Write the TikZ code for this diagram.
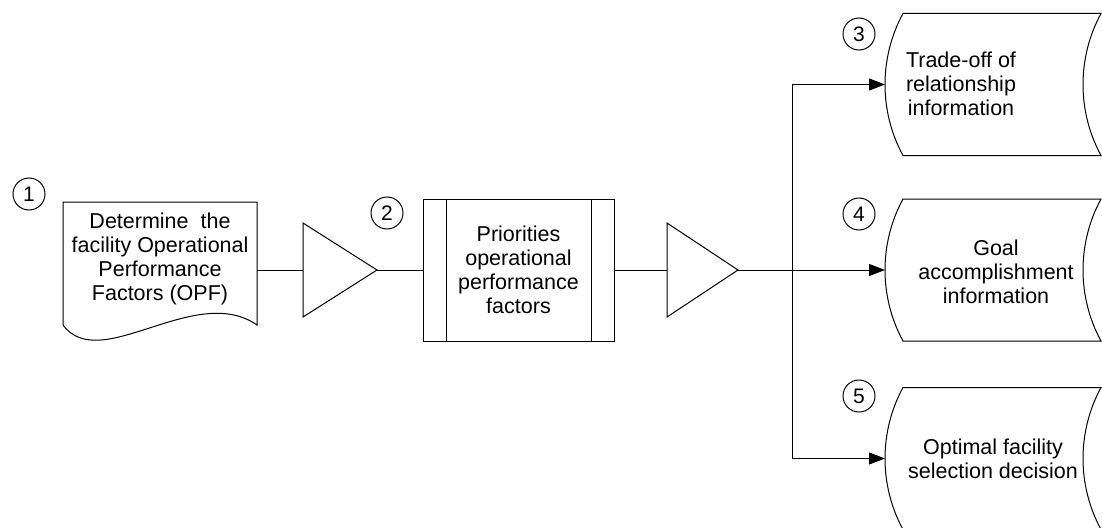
\documentclass[tikz,border=0pt]{standalone}
\usepackage{fontspec}
\setmainfont{Liberation Sans}
\usetikzlibrary{arrows.meta}
\begin{document}
\begin{tikzpicture}[x=1pt,y=-1pt,line width=1pt,line join=miter,
  txt/.style={font=\fontsize{21.5}{24}\selectfont,align=center,inner sep=0pt},
  num/.style={draw,circle,minimum size=32pt,inner sep=0pt,font=\fontsize{21}{24}\selectfont},
  procbox/.style={draw,minimum width=191pt,minimum height=142pt,txt},
  flow/.style={-{Triangle[length=16pt,width=12pt]}}]
\useasboundingbox (0,0) rectangle (1102,527);

% step numbers
\node[num] (n1) at (29,194) {1};
\node[num] (n2) at (387,213) {2};
\node[num] (n3) at (859,34) {3};
\node[num] (n4) at (859,214) {4};
\node[num] (n5) at (859,396) {5};

% document shape
\draw (63,202) -- (257,202) -- (257,325)
  .. controls (195,282) and (100,375) .. (63,325) -- cycle;
\coordinate (docR) at (257,270);
\node[txt] (docT) at (160,259) {Determine\ \ the\\facility Operational\\Performance\\Factors (OPF)};

% first merge triangle
\coordinate (t1L) at (303,270);
\coordinate (t1T) at (377,270);
\draw (303,223) -- (t1T) -- (303,317) -- cycle;

% predefined process
\node[procbox] (proc) at (518.5,270) {Priorities\\operational\\performance\\factors};
\draw ([xshift=24pt]proc.north west) -- ([xshift=24pt]proc.south west);
\draw ([xshift=-23pt]proc.north east) -- ([xshift=-23pt]proc.south east);

% second merge triangle
\coordinate (t2L) at (667,270);
\coordinate (t2T) at (738,270);
\draw (667,223) -- (t2T) -- (667,317) -- cycle;

% stored data shapes
\foreach \c/\nm in {84.5/s3,270/s4,458.5/s5}{
  \draw (903,\c-71) -- (1101,\c-71)
    .. controls (1077,\c-27) and (1077,\c+27) .. (1101,\c+71)
    -- (903,\c+71)
    .. controls (879,\c+27) and (879,\c-27) .. (903,\c-71) -- cycle;
  \coordinate (\nm) at (885,\c);
}
\node[txt] (s3t) at (961,84) {Trade-off of\\relationship\\information};
\node[txt] (s4t) at (996,272) {Goal\\accomplishment\\information};
\node[txt] (s5t) at (993,459) {Optimal facility\\selection decision};

% connectors
\coordinate (br) at (792,270);
\draw (docR) -- (t1L);
\draw (t1T) -- (proc.west);
\draw (proc.east) -- (t2L);
\draw[flow] (t2T) -- (s4);
\draw[flow] (br) |- (s3);
\draw[flow] (br) |- (s5);
\end{tikzpicture}
\end{document}
